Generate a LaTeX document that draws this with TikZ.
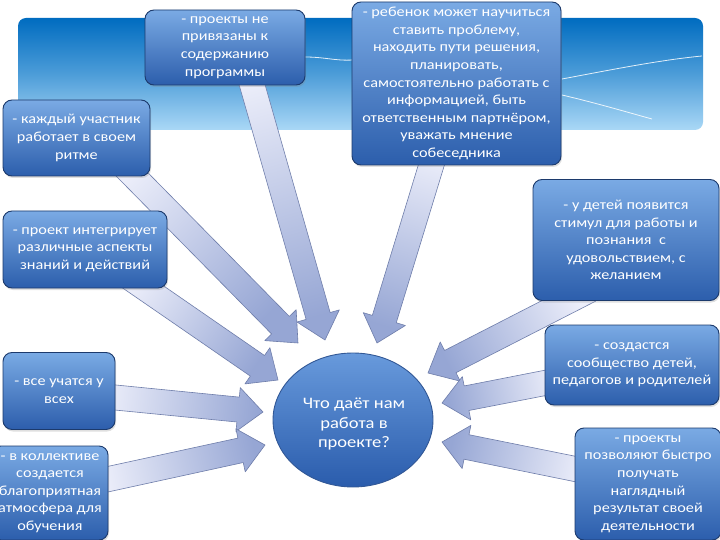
\documentclass[tikz,border=0pt]{standalone}
\usepackage{fontspec}
\setmainfont{Carlito}[FakeStretch=1.16]
\usetikzlibrary{calc,shadows,shapes.geometric}
\definecolor{bantop}{RGB}{0,108,192}
\definecolor{banbot}{RGB}{170,216,246}
\definecolor{boxtop}{RGB}{122,170,228}
\definecolor{boxbot}{RGB}{44,94,172}
\definecolor{boxedge}{RGB}{28,58,108}
\definecolor{elltop}{RGB}{104,154,220}
\definecolor{ellbot}{RGB}{42,92,172}
\definecolor{elledge}{RGB}{50,88,150}
\definecolor{arrlight}{RGB}{236,238,250}
\definecolor{arrdark}{RGB}{150,166,212}
\definecolor{arredge}{RGB}{110,125,170}
\newcommand\boxfont{\fontsize{14}{17.6}\selectfont}
\newcommand\ellfont{\fontsize{16}{19.5}\selectfont}
\newcommand\barrow[3]{%
  \coordinate (bn) at ($(#2)!25pt!(#1)$);
  \path[arrowstyle, shading angle=#3]
    ($(#1)!12.5pt!90:(#2)$) -- ($(bn)!12.5pt!90:(#2)$) -- ($(bn)!22pt!90:(#2)$) -- (#2)
    -- ($(bn)!22pt!-90:(#2)$) -- ($(bn)!12.5pt!-90:(#2)$) -- ($(#1)!12.5pt!-90:(#2)$) -- cycle;
}
\tikzset{
  infobox/.style={draw=boxedge, line width=0.9pt, rounded corners=9pt,
    top color=boxtop, bottom color=boxbot, text=white, align=center,
    font=\boxfont, inner sep=1pt,
    drop shadow={shadow xshift=1pt, shadow yshift=-2pt, opacity=0.25}},
  arrowstyle/.style={draw=arredge, line width=0.6pt, line join=round,
    top color=arrlight, bottom color=arrdark},
  deco/.style={white, line width=0.8pt, opacity=0.85}
}
\begin{document}
\begin{tikzpicture}[x=1pt,y=-1pt]
\useasboundingbox (0,0) rectangle (720,540);
\clip (0,0) rectangle (720,540);
\fill[white] (0,0) rectangle (720,540);
% banner
\shade[rounded corners=8pt, top color=bantop, bottom color=banbot, middle color=bantop!55!banbot]
  (18,18) rectangle (703,130);
\draw[deco] (305,57) .. controls (325,57) and (335,61) .. (353,60);
\draw[deco] (562,79) .. controls (610,70) and (660,60) .. (702,56);
\draw[deco] (562,95) .. controls (600,104) and (630,113) .. (652,119);

% coordinates for connectors
\coordinate (a1) at (245,60);  \coordinate (p1) at (325,340);
\coordinate (a2) at (439,140); \coordinate (p2) at (377,343);
\coordinate (a3) at (110,152); \coordinate (p3) at (298,343);
\coordinate (a4) at (120,271); \coordinate (p4) at (278,380);
\coordinate (a5) at (590,290); \coordinate (p5) at (428,373);
\coordinate (a6) at (560,380); \coordinate (p6) at (442,403);
\coordinate (a7) at (590,472); \coordinate (p7) at (442,442);
\coordinate (a8) at (100,396); \coordinate (p8) at (263,412);
\coordinate (a9) at (95,482);  \coordinate (p9) at (265,445);

\barrow{a1}{p1}{16}
\barrow{a2}{p2}{-17}
\barrow{a3}{p3}{44}
\barrow{a4}{p4}{55}
\barrow{a5}{p5}{-63}
\barrow{a6}{p6}{-79}
\barrow{a7}{p7}{258}
\barrow{a8}{p8}{84}
\barrow{a9}{p9}{102}

% center
\node[ellipse, draw=elledge, line width=0.9pt, top color=elltop, bottom color=ellbot,
  minimum width=160pt, minimum height=134pt, inner sep=0pt] (c) at (353,420) {};
\node[text=white, align=center, font=\ellfont, inner sep=0pt] (ct) at (354,424)
  {Что даёт нам\\работа в\\проекте?};

% boxes
\node[infobox, minimum width=160pt, minimum height=75pt] (b1) at (225,47.5)
  {- проекты не\\привязаны к\\содержанию\\программы};
\node[infobox, minimum width=209pt, minimum height=163pt] (b2) at (456.5,83.5)
  {- ребенок может научиться\\ставить проблему,\\находить пути решения,\\планировать,\\самостоятельно работать с\\информацией, быть\\ответственным партнёром,\\уважать мнение\\собеседника};
\node[infobox, minimum width=147pt, minimum height=76pt] (b3) at (76.5,138)
  {- каждый участник\\работает в своем\\ритме};
\node[infobox, minimum width=164pt, minimum height=77pt] (b4) at (85,249.5)
  {- проект интегрирует\\различные аспекты\\знаний и действий};
\node[infobox, minimum width=186pt, minimum height=121pt] (b5) at (626,240)
  {- у детей появится\\стимул для работы и\\познания \ с\\удовольствием, с\\желанием};
\node[infobox, minimum width=174pt, minimum height=80pt] (b6) at (632,365)
  {- создастся\\сообщество детей,\\педагогов и родителей};
\node[infobox, minimum width=146pt, minimum height=112pt] (b7) at (648,484)
  {- проекты\\позволяют быстро\\получать\\наглядный\\результат своей\\деятельности};
\node[infobox, minimum width=112pt, minimum height=77pt] (b8) at (59,391)
  {- все учатся у\\всех};
\node[infobox, minimum width=116pt, minimum height=94pt] (b9) at (50,493)
  {- в коллективе\\создается\\благоприятная\\атмосфера для\\обучения};
\end{tikzpicture}
\end{document}
